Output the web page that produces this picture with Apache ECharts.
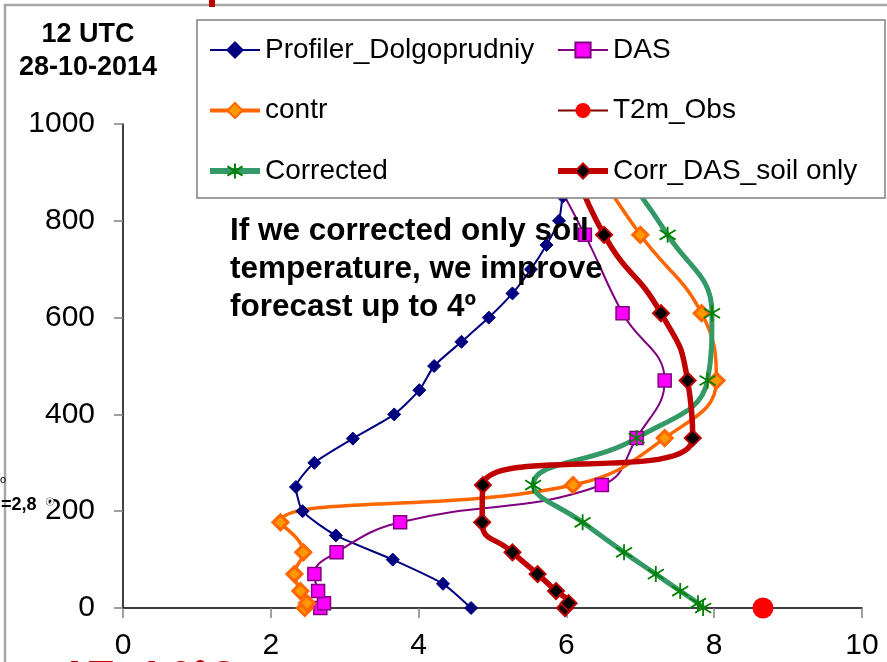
<!DOCTYPE html>
<html>
<head>
<meta charset="utf-8">
<script src="https://cdn.jsdelivr.net/npm/echarts@6/dist/echarts.min.js"></script>
<style>
html,body{margin:0;padding:0;background:#fff;}
#chart{width:887px;height:662px;}
</style>
</head>
<body>
<div id="chart"></div>
<script>
// ---- Data ----
const xTicks = [0, 2, 4, 6, 8, 10];
const yTicks = [0, 200, 400, 600, 800, 1000];

const profilerHeights = [0, 50, 100, 150, 200, 250, 300, 350, 400, 450, 500, 550, 600, 650, 700, 750, 800, 850, 900, 950, 1000];
const profilerTemp    = [4.71, 4.33, 3.65, 2.88, 2.43, 2.34, 2.59, 3.11, 3.67, 4.01, 4.21, 4.58, 4.95, 5.27, 5.52, 5.73, 5.90, 5.95, 6.05, 6.10, 6.20];

const modelHeights = [0, 10, 35, 70, 115, 177, 254, 351, 470, 609, 771, 955];
const dasTemp       = [2.67, 2.72, 2.64, 2.59, 2.89, 3.75, 6.48, 6.95, 7.33, 6.76, 6.25, 5.60];
const contrTemp     = [2.46, 2.49, 2.40, 2.32, 2.44, 2.13, 6.09, 7.33, 8.03, 7.83, 7.00, 6.20];
const correctedTemp = [7.85, 7.78, 7.54, 7.21, 6.78, 6.22, 5.55, 6.95, 7.91, 7.97, 7.37, 6.50];
const corrDasTemp   = [5.98, 6.03, 5.86, 5.61, 5.27, 4.86, 4.87, 7.71, 7.64, 7.28, 6.51, 6.00];

const t2mHeights = [0];
const t2mTemp    = [8.66];

const seriesNames = ['Profiler_Dolgoprudniy', 'DAS', 'contr', 'T2m_Obs', 'Corrected', 'Corr_DAS_soil only'];

function pairs(xs, ys) { return xs.map((x, i) => [x, ys[i]]); }

const FONT = 'Liberation Sans, Arial, sans-serif';
const asterisk = 'path://M10,0L10,20M1.5,4L18.5,16M18.5,4L1.5,16';

const chart = echarts.init(document.getElementById('chart'), null, {renderer: 'canvas'});

const legendCommon = {
  orient: 'vertical', top: 35, padding: 0, z: 10,
  itemWidth: 50, itemHeight: 19, itemGap: 30.5,
  textStyle: {fontSize: 28, fontFamily: FONT, color: '#000', lineHeight: 30},
  selectedMode: false
};

const option = {
  animation: false,
  backgroundColor: '#ffffff',
  grid: {left: 123, right: 25, top: 124, bottom: 54, containLabel: false},
  xAxis: {
    type: 'value', min: xTicks[0], max: xTicks[xTicks.length - 1], interval: 2,
    axisLine: {show: true, onZero: false, lineStyle: {color: '#000', width: 1.5}},
    axisTick: {show: true, inside: false, length: 10, lineStyle: {color: '#808080', width: 1.5}},
    axisLabel: {color: '#000', fontSize: 30, fontFamily: FONT, margin: 23},
    splitLine: {show: false}
  },
  yAxis: {
    type: 'value', min: yTicks[0], max: yTicks[yTicks.length - 1], interval: 200,
    axisLine: {show: true, onZero: false, lineStyle: {color: '#000', width: 1.5}},
    axisTick: {show: true, inside: false, length: 9, lineStyle: {color: '#808080', width: 1.5}},
    axisLabel: {color: '#000', fontSize: 30, fontFamily: FONT, margin: 28, formatter: v => String(v)},
    splitLine: {show: false}
  },
  legend: [
    Object.assign({}, legendCommon, {
      left: 207,
      data: [
        {name: seriesNames[0], lineStyle: {width: 2, color: '#000080'}},
        {name: seriesNames[2], lineStyle: {width: 4, color: '#ff6600'}},
        {name: seriesNames[4], lineStyle: {width: 6, color: '#339966'}}
      ]
    }),
    Object.assign({}, legendCommon, {
      left: 555,
      data: [
        {name: seriesNames[1], lineStyle: {width: 2, color: '#800080'}},
        {name: seriesNames[3], lineStyle: {width: 2, color: '#800000'}},
        {name: seriesNames[5], lineStyle: {width: 6, color: '#c00000'}}
      ]
    })
  ],
  graphic: [
    {type: 'polyline', z: 20, silent: true,
     shape: {points: [[5, 662], [5, 5], [887, 5]]},
     style: {stroke: '#a6a6a6', lineWidth: 2.5, fill: null}},
    {type: 'rect', z: 20, silent: true,
     shape: {x: 209, y: 0, width: 6, height: 7},
     style: {fill: '#c00000'}},
    {type: 'rect', z: 5, silent: true,
     shape: {x: 197, y: 20, width: 688, height: 178},
     style: {fill: '#ffffff', stroke: '#808080', lineWidth: 1.5}},
    {type: 'text', z: 20, silent: true,
     x: 88, y: 18,
     style: {text: '12 UTC\n28-10-2014', fill: '#000', fontSize: 27, fontWeight: 'bold',
             fontFamily: FONT, align: 'center', verticalAlign: 'top', lineHeight: 33}},
    {type: 'text', z: 20, silent: true,
     x: 230, y: 212,
     style: {text: 'If we corrected only soil\ntemperature, we improve\nforecast up to 4º', fill: '#000',
             fontSize: 31.5, fontWeight: 'bold', fontFamily: FONT, lineHeight: 38, verticalAlign: 'top'}},
    {type: 'text', z: 20, silent: true,
     x: -4, y: 496,
     style: {text: '.=2,8', fill: '#000', fontSize: 18, fontWeight: 'bold', fontFamily: FONT, verticalAlign: 'top'}},
    {type: 'text', z: 20, silent: true,
     x: 46, y: 495,
     style: {text: 'o', fill: '#ffffff', stroke: '#555', lineWidth: 1, fontSize: 13, fontWeight: 'bold', fontFamily: FONT, verticalAlign: 'top'}},
    {type: 'text', z: 20, silent: true,
     x: 0, y: 474,
     style: {text: 'o', fill: '#000', fontSize: 11, fontFamily: FONT, verticalAlign: 'top'}},
    {type: 'text', z: 20, silent: true,
     x: 60, y: 658,
     style: {text: 'ΔT=4,0°C', fill: '#c00000', fontSize: 40, fontWeight: 'bold', fontFamily: FONT, verticalAlign: 'top'}}
  ],
  series: [
    {
      name: seriesNames[0], type: 'line', smooth: 0.2,
      data: pairs(profilerTemp, profilerHeights),
      symbol: 'diamond', symbolSize: 13,
      lineStyle: {color: '#000080', width: 2},
      itemStyle: {color: '#000080', borderColor: '#000080', borderWidth: 1},
      emphasis: {disabled: true}
    },
    {
      name: seriesNames[1], type: 'line', smooth: 0.45,
      data: pairs(dasTemp, modelHeights),
      symbol: 'rect', symbolSize: 13,
      lineStyle: {color: '#800080', width: 2},
      itemStyle: {color: '#ff00ff', borderColor: '#800080', borderWidth: 1.5},
      emphasis: {disabled: true}
    },
    {
      name: seriesNames[2], type: 'line', smooth: 0.45,
      data: pairs(contrTemp, modelHeights),
      symbol: 'diamond', symbolSize: 15,
      lineStyle: {color: '#ff6600', width: 3.5},
      itemStyle: {color: '#ff9900', borderColor: '#ff6600', borderWidth: 3},
      emphasis: {disabled: true}
    },
    {
      name: seriesNames[3], type: 'line',
      data: pairs(t2mTemp, t2mHeights),
      symbol: 'circle', symbolSize: 21,
      lineStyle: {color: '#800000', width: 2},
      itemStyle: {color: '#ff0000', borderColor: '#ff0000', borderWidth: 0},
      emphasis: {disabled: true}
    },
    {
      name: seriesNames[4], type: 'line', smooth: 0.45,
      data: pairs(correctedTemp, modelHeights),
      symbol: asterisk, symbolSize: 16,
      lineStyle: {color: '#339966', width: 5},
      itemStyle: {color: 'rgba(0,0,0,0)', borderColor: '#008000', borderWidth: 1.8},
      emphasis: {disabled: true}
    },
    {
      name: seriesNames[5], type: 'line', smooth: 0.55,
      data: pairs(corrDasTemp, modelHeights),
      symbol: 'diamond', symbolSize: 16,
      lineStyle: {color: '#c00000', width: 5.5},
      itemStyle: {color: '#000000', borderColor: '#c00000', borderWidth: 2},
      emphasis: {disabled: true}
    }
  ]
};
chart.setOption(option);
</script>
</body>
</html>
